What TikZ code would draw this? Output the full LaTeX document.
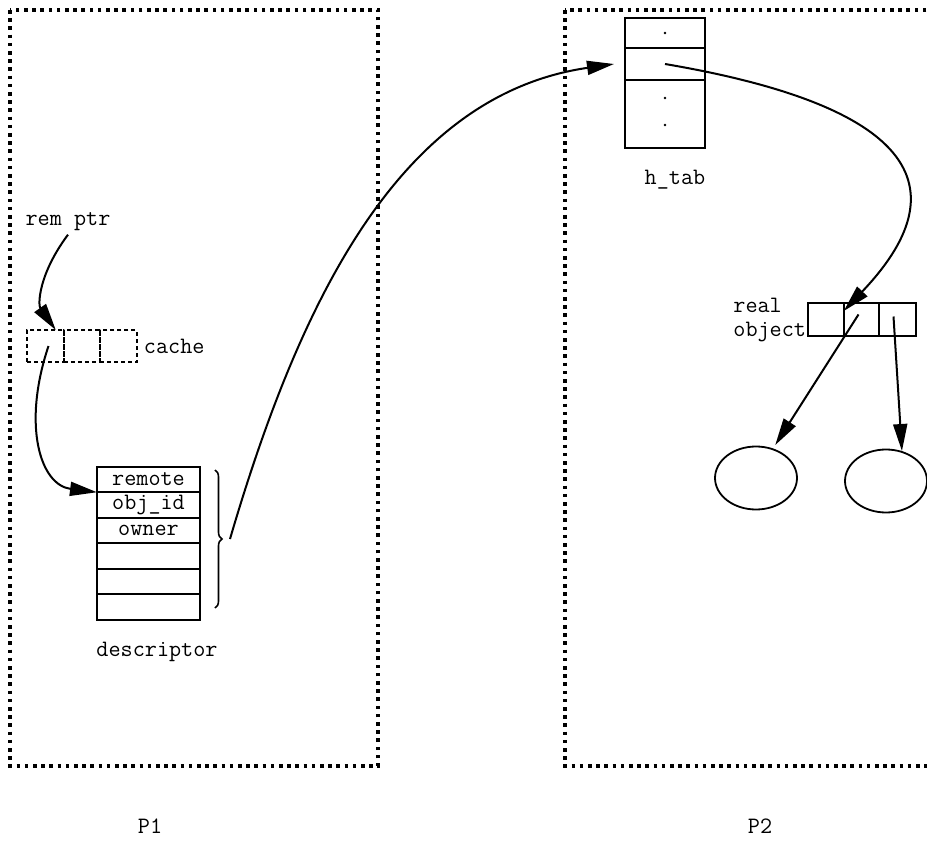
\documentclass[tikz,border=0pt]{standalone}
\usetikzlibrary{arrows.meta,shapes.geometric,decorations.pathreplacing}

\begin{document}
\begin{tikzpicture}[x=1pt, y=-1pt, font=\ttfamily\fontsize{23.5}{24}\selectfont]
    % Styles
    \tikzstyle{proc} = [line width=3.2pt, dash pattern=on 3.6pt off 4.6pt]
    \tikzstyle{cell} = [rectangle, draw, line width=1.8pt, inner sep=0pt, outer sep=0pt]
    \tikzstyle{dashcell} = [cell, line width=1.6pt, dash pattern=on 4pt off 3pt, minimum width=36.5pt, minimum height=32pt]
    \tikzstyle{obj} = [ellipse, draw, line width=1.8pt, minimum width=82pt, minimum height=63pt, inner sep=0pt]
    \tikzstyle{arrow} = [line width=2pt, -{Triangle[length=27pt, width=14pt]}]

    \useasboundingbox (0,0) rectangle (927,861);

    % Processes
    \draw[proc] (10,10) rectangle (378,766);
    \draw[proc] (565,10) rectangle (945,766);
    \node (p1) at (150,826) {P1};
    \node (p2) at (760,826) {P2};

    % Nodes in P1
    \node (remptr) at (68,222) {rem ptr};
    \node[dashcell] (cache1) at (45.5,346) {};
    \node[dashcell, anchor=west] (cache2) at (cache1.east) {};
    \node[dashcell, anchor=west] (cache3) at (cache2.east) {};
    \node[anchor=west, inner sep=7pt] (cachelbl) at (cache3.east) {cache};

    \node[cell, minimum width=103pt, minimum height=25.5pt] (desc1) at (148.5,479.5) {remote};
    \foreach \i/\txt [remember=\i as \prev (initially 1)] in {2/obj\_id, 3/owner, 4/, 5/, 6/} {
        \node[cell, minimum width=103pt, minimum height=25.5pt, anchor=north] (desc\i) at (desc\prev.south) {\txt};
    }
    \node (desclbl) at (157,652) {descriptor};
    \draw[line width=1.6pt, decorate, decoration={brace, amplitude=7pt}] (215,470) -- (215,608);
    \coordinate (bracetip) at (230,539);

    % Nodes in P2
    \node[cell, minimum width=80pt, minimum height=30pt] (htab1) at (665,33) {};
    \node[cell, minimum width=80pt, minimum height=32pt, anchor=north] (htab2) at (htab1.south) {};
    \node[cell, minimum width=80pt, minimum height=68pt, anchor=north] (htab3) at (htab2.south) {};
    \fill (htab1.center) circle (1.4pt);
    \fill ([yshift=-11pt]htab3.center) circle (1.4pt);
    \fill ([yshift=16pt]htab3.center) circle (1.4pt);
    \node (htablbl) at (675,180) {h\_tab};

    \node[cell, minimum width=35.5pt, minimum height=33pt] (obj1) at (826,319.5) {};
    \node[cell, minimum width=35.5pt, minimum height=33pt, anchor=west] (obj2) at (obj1.east) {};
    \node[cell, minimum width=36.5pt, minimum height=33pt, anchor=west] (obj3) at (obj2.east) {};
    \node[anchor=east, align=left, inner sep=2pt] (objlbl) at (obj1.west) {real\\object};
    \node[obj] (leaf1) at (756,478) {};
    \node[obj] (leaf2) at (886,481) {};

    % Arrows
    \draw[arrow] (remptr.south) .. controls (38,275) and (38,305) .. ([xshift=-8pt]cache1.north east);
    \draw[arrow] ([xshift=3pt]cache1.center) .. controls (22,425) and (40,485) .. (desc1.south west);
    \draw[arrow] (bracetip) .. controls (300,300) and (400,95) .. ([xshift=-11pt]htab2.west);
    \draw[arrow] (htab2.center) .. controls (965,115) and (935,215) .. ([shift={(0pt,-8pt)}]obj2.north west);
    \draw[arrow, shorten >=4pt] ([xshift=-3pt, yshift=5pt]obj2.center) -- (leaf1.60);
    \draw[arrow] ([xshift=-4pt, yshift=3pt]obj3.center) -- (leaf2.62);
\end{tikzpicture}
\end{document}
